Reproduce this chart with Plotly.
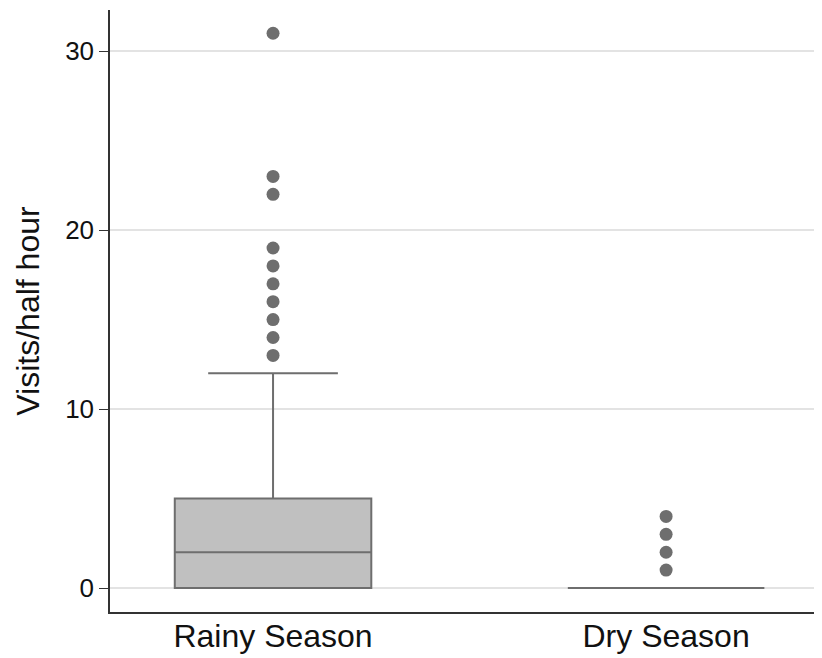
import plotly.graph_objects as go

categories = ["Rainy Season", "Dry Season"]
q1 = [0, 0]
median = [2, 0]
q3 = [5, 0]
lower_fence = [0, 0]
upper_fence = [12, 0]
rainy_outliers = [13, 14, 15, 16, 17, 18, 19, 22, 23, 31]
dry_outliers = [1, 2, 3, 4]

xpos = [0, 1]
line_col = "#6e6e6e"
fig = go.Figure()
fig.add_trace(go.Box(
    x=xpos, q1=q1, median=median, q3=q3,
    lowerfence=lower_fence, upperfence=upper_fence,
    fillcolor="#c0c0c0", line=dict(color=line_col, width=2),
    width=0.5, whiskerwidth=0.66, boxpoints=False, showlegend=False,
))
fig.add_trace(go.Scatter(
    x=[xpos[0]] * len(rainy_outliers), y=rainy_outliers, mode="markers",
    marker=dict(color=line_col, size=13), showlegend=False,
))
fig.add_trace(go.Scatter(
    x=[xpos[1]] * len(dry_outliers), y=dry_outliers, mode="markers",
    marker=dict(color=line_col, size=13), showlegend=False,
))

fig.update_layout(
    width=822, height=658,
    margin=dict(l=102, r=0, t=2, b=54),
    paper_bgcolor="white", plot_bgcolor="white",
    font=dict(family="Liberation Sans, Arial, sans-serif", color="#111111"),
    xaxis=dict(
        range=[-0.4148, 1.417], tickmode="array", tickvals=xpos, ticktext=categories,
        showgrid=False, zeroline=False, showline=True, linecolor="#333333", linewidth=1.5,
        ticks="", tickfont=dict(size=32), ticklabelstandoff=-5,
    ),
    yaxis=dict(
        range=[-1.34, 32.3], tickvals=[0, 10, 20, 30],
        showgrid=True, gridcolor="#e3e3e3", gridwidth=1.5, zeroline=False,
        showline=True, linecolor="#333333", linewidth=1.5,
        ticks="outside", ticklen=9, tickcolor="#333333", tickfont=dict(size=26),
        title=dict(text="Visits/half hour", font=dict(size=32), standoff=16),
    ),
)
fig.write_html("out.html")
